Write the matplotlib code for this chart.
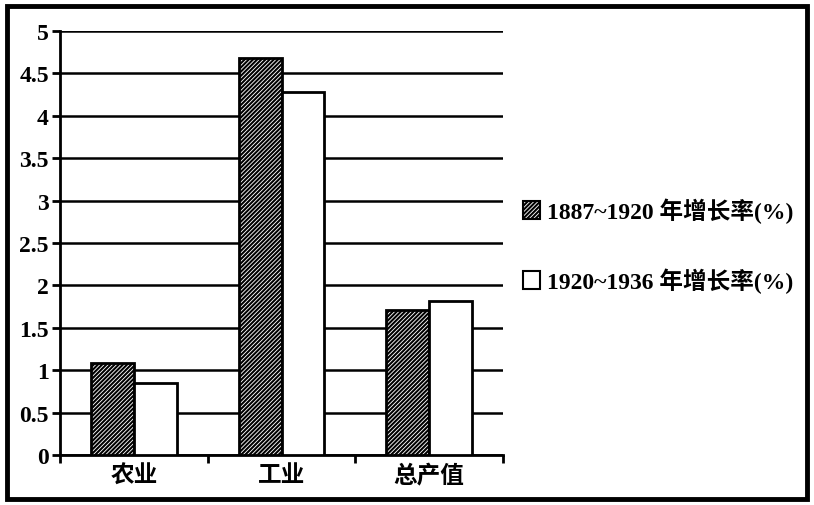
import matplotlib.pyplot as plt
import matplotlib.patches as mpatches
import numpy as np

plt.rcParams['font.family'] = ['Liberation Serif', 'Noto Sans CJK SC', 'DejaVu Sans']
plt.rcParams['hatch.color'] = 'black'
plt.rcParams['hatch.linewidth'] = 1.5

# data
categories = ['农业', '工业', '总产值']
rate_1887_1920 = [1.08, 4.68, 1.71]
rate_1920_1936 = [0.85, 4.28, 1.82]
series_labels = ['1887~1920 年增长率(%)', '1920~1936 年增长率(%)']
yticks = [0, 0.5, 1, 1.5, 2, 2.5, 3, 3.5, 4, 4.5, 5]
ytick_labels = ['0', '0.5', '1', '1.5', '2', '2.5', '3', '3.5', '4', '4.5', '5']

fig = plt.figure(figsize=(8.14, 5.06), dpi=100)
ax = fig.add_axes([0.0737, 0.0988, 0.5443, 0.838])

x = np.arange(len(categories))
w = 0.29
b1 = ax.bar(x - w / 2, rate_1887_1920, w, facecolor='white', edgecolor='black',
            hatch='////////', linewidth=2, zorder=3)
b2 = ax.bar(x + w / 2, rate_1920_1936, w, facecolor='white', edgecolor='black',
            linewidth=2, zorder=3)

ax.set_xlim(-0.5, 2.5)
ax.set_ylim(0, 5)
ax.set_yticks(yticks)
ax.set_yticklabels(ytick_labels, fontsize=17, fontweight='bold')
ax.grid(axis='y', color='black', linewidth=1.8, zorder=0)
ax.set_axisbelow(True)

ax.set_xticks(x)
ax.set_xticklabels(categories, fontsize=17, fontweight='bold')
ax.tick_params(axis='x', which='major', length=0, pad=7)
ax.set_xticks([-0.5, 0.5, 1.5, 2.5], minor=True)
ax.tick_params(axis='x', which='minor', length=6, width=2)
ax.tick_params(axis='y', length=6, width=2, pad=2)

for s in ['top', 'right']:
    ax.spines[s].set_visible(False)
for s in ['left', 'bottom']:
    ax.spines[s].set_linewidth(2)

handles = [mpatches.Patch(facecolor='white', edgecolor='black', hatch='////////', linewidth=1.5),
           mpatches.Patch(facecolor='white', edgecolor='black', linewidth=1.5)]
fig.legend(handles, series_labels, loc='upper left', bbox_to_anchor=(0.617, 0.65),
           frameon=False, handlelength=0.7, handleheight=0.8, handletextpad=0.3,
           labelspacing=1.9, prop={'size': 17, 'weight': 'bold'})

# outer frame round the whole picture
fig.patches.append(mpatches.Rectangle((0.008, 0.012), 0.984, 0.975, transform=fig.transFigure,
                                      fill=False, edgecolor='black', linewidth=3.5))

fig.savefig('out.png', dpi=100)
